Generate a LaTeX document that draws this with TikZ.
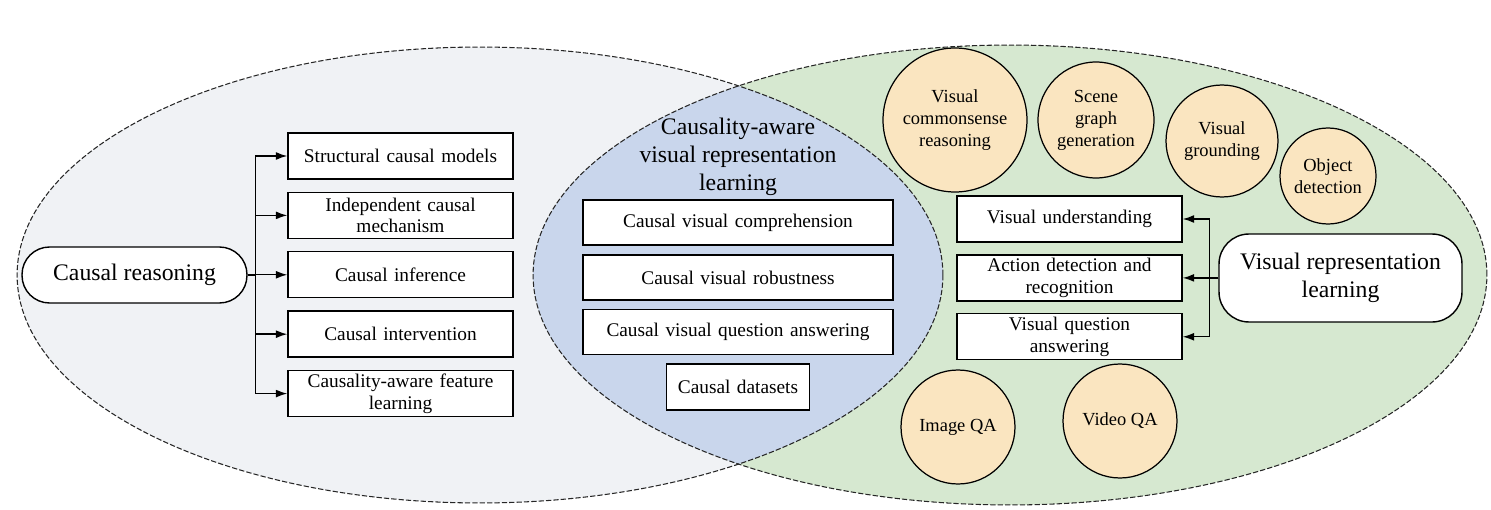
\documentclass[tikz,border=0pt]{standalone}
\usepackage{fontspec}
\setmainfont{Liberation Serif}
\usepackage{xcolor}
\usetikzlibrary{arrows.meta,positioning}
\definecolor{crgray}{HTML}{F0F2F5}
\definecolor{vrgreen}{HTML}{D6E8D0}
\definecolor{midblue}{HTML}{C9D6EC}
\definecolor{taskorange}{HTML}{FAE5C0}
\tikzstyle{branch} = [line width=0.8pt,-{Latex[length=6.5pt,width=4.5pt]}]
\tikzstyle{region} = [line width=0.6pt,dash pattern=on 3pt off 1.2pt,draw=black!85]
\tikzstyle{topic} = [draw,line width=0.8pt,fill=white,align=center,font=\fontsize{13.5}{16}\selectfont]
\tikzstyle{itembox} = [draw,line width=0.8pt,fill=white,minimum width=4.5cm,minimum height=0.92cm,text width=4.4cm,inner sep=0pt,align=center,font=\fontsize{11}{12.5}\selectfont]
\tikzstyle{task} = [draw,circle,line width=0.7pt,fill=taskorange,inner sep=0pt,align=center,font=\fontsize{10.5}{12.5}\selectfont]

\begin{document}
\begin{tikzpicture}[x=0.02cm,y=-0.02cm]
            % basics
          \useasboundingbox (0,0) rectangle (1491,510);
          \fill[crgray] (480,275) ellipse [x radius=9.26cm, y radius=4.56cm];
          \fill[vrgreen] (1010,275) ellipse [x radius=9.54cm, y radius=4.6cm];
          \begin{scope}
            \clip (480,275) ellipse [x radius=9.26cm, y radius=4.56cm];
            \fill[midblue] (1010,275) ellipse [x radius=9.54cm, y radius=4.6cm];
          \end{scope}
          \draw[region] (480,275) ellipse [x radius=9.26cm, y radius=4.56cm];
          \draw[region] (1010,275) ellipse [x radius=9.54cm, y radius=4.6cm];

          % causal reasoning
          \node[topic, minimum width=4.5cm, minimum height=1.12cm, rounded corners=0.55cm] (cr) at (134.5,275) {Causal reasoning};
          \node[itembox] (c1) at (400.5,156) {Structural causal models};
          \node[itembox, below=0.24cm of c1] (c2) {Independent causal\\mechanism};
          \node[itembox, below=0.24cm of c2] (c3) {Causal inference};
          \node[itembox, below=0.24cm of c3] (c4) {Causal intervention};
          \node[itembox, below=0.24cm of c4] (c5) {Causality-aware feature\\learning};
          \foreach \n in {c1,c2,c3,c4,c5}
            \draw[branch] (cr.east) -- ++(8,0) |- (\n.west);

          % intersection
          \node[align=center, font=\fontsize{13.5}{16}\selectfont] (cvrl) at (738,157) {Causality-aware\\visual representation\\learning};
          \node[itembox, minimum width=6.2cm, text width=6.1cm, minimum height=0.9cm] (m1) at (738,222.5) {Causal visual comprehension};
          \node[itembox, minimum width=6.2cm, text width=6.1cm, minimum height=0.9cm, below=0.17cm of m1] (m2) {Causal visual robustness};
          \node[itembox, minimum width=6.2cm, text width=6.1cm, minimum height=0.9cm, below=0.17cm of m2] (m3) {Causal visual question answering};
          \node[itembox, minimum width=2.86cm, text width=2.7cm, below=0.16cm of m3] (m4) {Causal datasets};

          % visual representation learning
          \node[topic, minimum width=4.86cm, minimum height=1.76cm, rounded corners=0.6cm] (vrl) at (1340.5,278) {Visual representation\\learning};
          \node[itembox] (v1) at (1069.5,219) {Visual understanding};
          \node[itembox, below=0.23cm of v1] (v2) {Action detection and\\recognition};
          \node[itembox, below=0.23cm of v2] (v3) {Visual question\\answering};
          \foreach \n in {v1,v2,v3}
            \draw[branch] (vrl.west) -- ++(-9,0) |- (\n.east);

          \node[task, minimum size=2.88cm] (vcr) at (955,120) {Visual\\commonsense\\reasoning};
          \node[task, minimum size=2.32cm] (sgg) at (1096,120) {Scene\\graph\\generation};
          \node[task, minimum size=2.24cm] (vg) at (1222,141) {Visual\\grounding};
          \node[task, minimum size=1.92cm] (od) at (1328,176) {Object\\detection};
          \node[task, minimum size=2.28cm] (iqa) at (958,427) {Image QA};
          \node[task, minimum size=2.28cm] (vqa) at (1120,421) {Video QA};

        \end{tikzpicture}
\end{document}
